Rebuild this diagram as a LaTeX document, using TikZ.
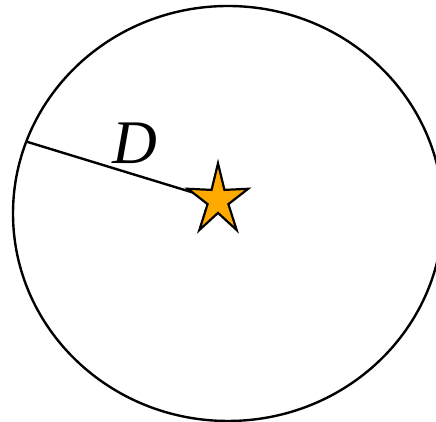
\documentclass[tikz,border=0pt]{standalone}
\usepackage{fontspec}
\setmainfont{Liberation Serif}
\usetikzlibrary{shapes.geometric}
\definecolor{srcfill}{RGB}{255, 170, 0}

\begin{document}
\begin{tikzpicture}[
  x=0.5pt, y=0.5pt,
  rimline/.style={draw=black, line width=1.2pt},
  source/.style={star, star points=5, star point ratio=2.9, draw=black,
    line width=1.1pt, fill=srcfill, minimum size=36.9pt, inner sep=0pt,
    xscale=0.86},
  label/.style={font=\fontsize{31}{36}\selectfont\itshape, inner sep=0pt}
]
  \useasboundingbox (0,0) rectangle (436,422);
  \clip (0,0) rectangle (436,422);

  % --- Range circle ---
  \draw[rimline] (228,208.5) ellipse [x radius=215, y radius=207.5];

  % --- Radius to the source ---
  \coordinate (ctr) at (218,221.8);
  \coordinate (rim) at (26.7,280.3);
  \draw[rimline] (rim) -- (ctr);
  \node[label] (dist) at (135,279) {D};

  % --- Source ---
  \node[source] (src) at (ctr) {};
\end{tikzpicture}
\end{document}
